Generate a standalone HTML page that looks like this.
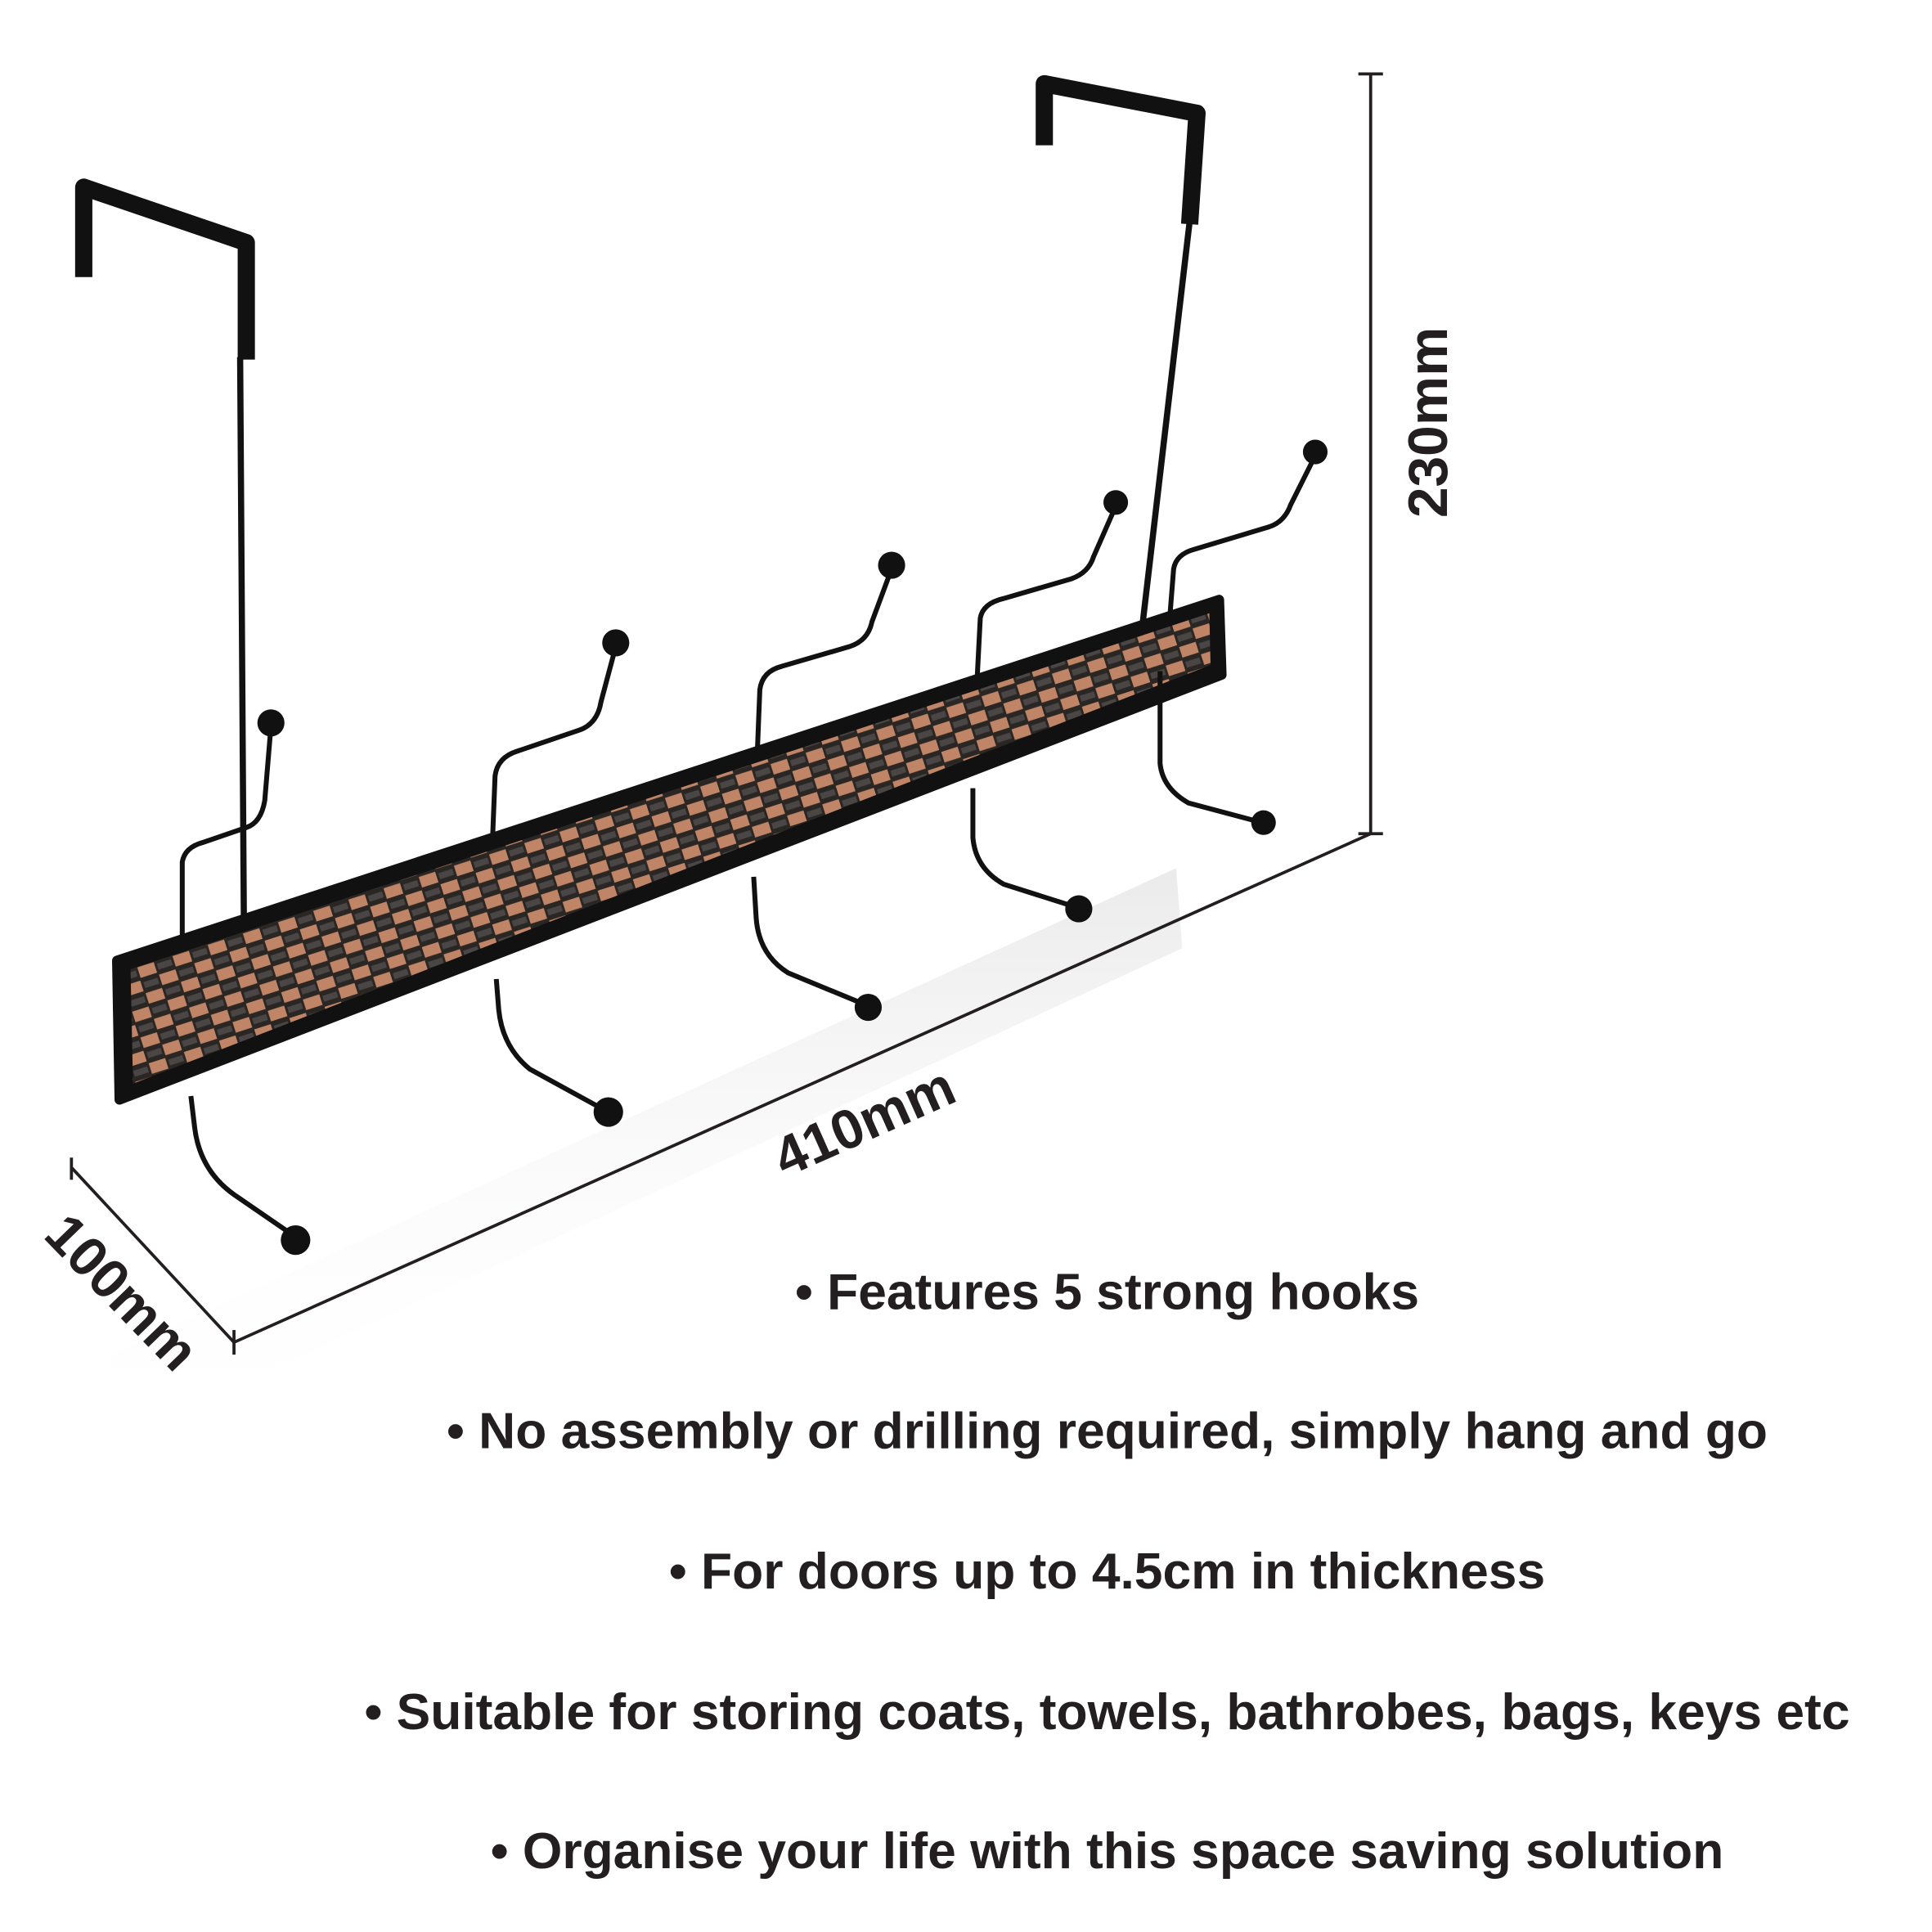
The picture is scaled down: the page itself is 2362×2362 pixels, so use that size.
<!DOCTYPE html>
<html><head><meta charset="utf-8"><style>
html,body{margin:0;padding:0;background:#fff;}
svg{display:block;}
text{font-family:"Liberation Sans",sans-serif;font-weight:bold;fill:#231f20;}
</style></head><body>
<svg width="2362" height="2362" viewBox="0 0 1550 1550" xmlns="http://www.w3.org/2000/svg">
<defs>
<pattern id="weave" width="30" height="22" patternUnits="userSpaceOnUse" patternTransform="rotate(-17.8)">
<rect width="30" height="22" fill="#2a2624"/>
<rect x="1" y="1" width="14" height="9" fill="#c08466"/>
<rect x="16" y="12" width="14" height="9" fill="#c08466"/>
<rect x="17" y="3" width="12" height="5" fill="#4a4645"/>
<rect x="2" y="14" width="12" height="5" fill="#4a4645"/>
</pattern>
<linearGradient id="fade" x1="0" y1="0" x2="0" y2="1">
<stop offset="0" stop-color="#ddd" stop-opacity="0.6"/><stop offset="1" stop-color="#fff" stop-opacity="0"/>
</linearGradient>
</defs>
<g transform="scale(0.988)">
<polygon points="90,1100 955,705 960,770 95,1170" fill="url(#fade)"/>

<g fill="none" stroke="#111" stroke-linecap="butt">
<path d="M68,225 L68,152 L200,197 L200,292" stroke-width="14" stroke-linejoin="round"/>
<path d="M195,290 L198,745" stroke-width="5"/>
<path d="M848,118 L848,68 L972,92 L966,182" stroke-width="14" stroke-linejoin="round"/>
<path d="M966,180 L928,505" stroke-width="5"/>
</g>

<g fill="none" stroke="#111" stroke-width="4">
<path d="M148,770 L148,700 Q150,688 165,684 L200,672 Q212,668 215,650 L220,590"/>
<path d="M400,680 L402,630 Q404,615 420,610 L470,593 Q485,588 488,570 L500,525"/>
<path d="M615,610 L617,560 Q619,545 635,541 L690,525 Q705,520 708,505 L724,462"/>
<path d="M793,560 L796,502 Q798,490 815,486 L870,470 Q884,465 888,452 L906,411"/>
<path d="M950,500 L953,462 Q955,450 970,446 L1030,428 Q1043,424 1048,410 L1068,370"/>
</g>

<polygon points="95,780 990,487 992,548 97,893" fill="#111" stroke="#111" stroke-width="8" stroke-linejoin="round"/>
<polygon points="106,787 982,498 983,540 108,880" fill="url(#weave)"/>

<g fill="none" stroke="#111" stroke-width="4">
<path d="M155,890 L158,915 Q162,950 190,970 L238,1003"/>
<path d="M403,795 L405,820 Q408,850 430,868 L492,902"/>
<path d="M612,712 L614,745 Q616,775 640,790 L703,816"/>
<path d="M790,640 L790,680 Q792,705 815,718 L875,737"/>
<path d="M942,545 L942,620 Q944,640 965,652 L1025,668"/>
</g>

<g fill="#111">
<circle cx="220" cy="587" r="11"/><circle cx="240" cy="1007" r="12"/>
<circle cx="500" cy="522" r="11"/><circle cx="494" cy="903" r="12"/>
<circle cx="724" cy="459" r="11"/><circle cx="705" cy="818" r="11"/>
<circle cx="906" cy="408" r="10"/><circle cx="876" cy="738" r="11"/>
<circle cx="1068" cy="367" r="10"/><circle cx="1026" cy="668" r="10"/>
</g>

<g stroke="#231f20" stroke-width="2.5" fill="none">
<path d="M1113,60 L1113,677"/>
<path d="M1103,60 L1123,60 M1103,677 L1123,677"/>
<path d="M1113,677 L190,1090"/>
<path d="M190,1080 L190,1100"/>
<path d="M58,948 L190,1090"/>
<path d="M58,940 L58,958"/>
</g>
<text x="0" y="0" font-size="45" text-anchor="middle" transform="translate(1175,343) rotate(-90)">230mm</text>
<text x="0" y="0" font-size="45" text-anchor="middle" transform="translate(708,925) rotate(-24)">410mm</text>
<text x="0" y="0" font-size="45" text-anchor="middle" transform="translate(88,1060) rotate(46)">100mm</text>

<g font-size="41.4" text-anchor="middle">
<text x="899" y="1063">• Features 5 strong hooks</text>
<text x="899" y="1176">• No assembly or drilling required, simply hang and go</text>
<text x="899" y="1290">• For doors up to 4.5cm in thickness</text>
<text x="899" y="1404">• Suitable for storing coats, towels, bathrobes, bags, keys etc</text>
<text x="899" y="1517">• Organise your life with this space saving solution</text>
</g>
</g>
</svg>
</body></html>
